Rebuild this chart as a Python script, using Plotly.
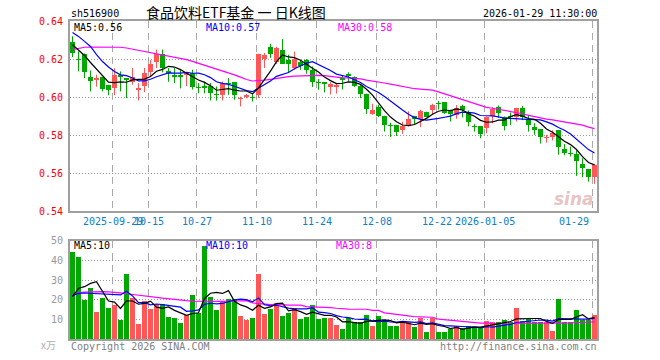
import plotly.graph_objects as go
import pandas as pd
import numpy as np

# ---------------- data ----------------
dates = [
    "2025-09-18", "2025-09-19", "2025-09-22", "2025-09-23", "2025-09-24", "2025-09-25", "2025-09-26",
    "2025-09-29", "2025-09-30",
    "2025-10-09", "2025-10-10", "2025-10-13", "2025-10-14", "2025-10-15", "2025-10-16", "2025-10-17",
    "2025-10-20", "2025-10-21", "2025-10-22", "2025-10-23", "2025-10-24", "2025-10-27", "2025-10-28",
    "2025-10-29", "2025-10-30", "2025-10-31",
    "2025-11-03", "2025-11-04", "2025-11-05", "2025-11-06", "2025-11-07", "2025-11-10", "2025-11-11",
    "2025-11-12", "2025-11-13", "2025-11-14", "2025-11-17", "2025-11-18", "2025-11-19", "2025-11-20",
    "2025-11-21", "2025-11-24", "2025-11-25", "2025-11-26", "2025-11-27", "2025-11-28",
    "2025-12-01", "2025-12-02", "2025-12-03", "2025-12-04", "2025-12-05", "2025-12-08", "2025-12-09",
    "2025-12-10", "2025-12-11", "2025-12-12", "2025-12-15", "2025-12-16", "2025-12-17", "2025-12-18",
    "2025-12-19", "2025-12-22", "2025-12-23", "2025-12-24", "2025-12-25", "2025-12-26", "2025-12-29",
    "2025-12-30", "2025-12-31",
    "2026-01-05", "2026-01-06", "2026-01-07", "2026-01-08", "2026-01-09", "2026-01-12", "2026-01-13",
    "2026-01-14", "2026-01-15", "2026-01-16", "2026-01-19", "2026-01-20", "2026-01-21", "2026-01-22",
    "2026-01-23", "2026-01-26", "2026-01-27", "2026-01-28", "2026-01-29",
]

opens = [
    0.6290, 0.6198, 0.6228, 0.6108, 0.6090, 0.6107, 0.6065, 0.6047, 0.6118, 0.6098,
    0.6077, 0.6037, 0.6056, 0.6130, 0.6184, 0.6228, 0.6139, 0.6118, 0.6118, 0.6118,
    0.6126, 0.6053, 0.6056, 0.6056, 0.6018, 0.6009, 0.6076, 0.6077, 0.5988, 0.5999,
    0.6001, 0.6009, 0.6200, 0.6261, 0.6184, 0.6249, 0.6196, 0.6153, 0.6186, 0.6196,
    0.6140, 0.6077, 0.6077, 0.6053, 0.6053, 0.6100, 0.6121, 0.6105, 0.6056, 0.6018,
    0.5912, 0.5947, 0.5902, 0.5851, 0.5854, 0.5825, 0.5849, 0.5902, 0.5884, 0.5923,
    0.5930, 0.5967, 0.5974, 0.5933, 0.5905, 0.5954, 0.5919, 0.5848, 0.5846, 0.5837,
    0.5902, 0.5947, 0.5895, 0.5902, 0.5898, 0.5942, 0.5884, 0.5842, 0.5832, 0.5784,
    0.5793, 0.5825, 0.5726, 0.5707, 0.5700, 0.5649, 0.5623, 0.5582,
]
highs = [
    0.6320, 0.6240, 0.6230, 0.6140, 0.6118, 0.6107, 0.6065, 0.6152, 0.6135, 0.6098,
    0.6153, 0.6074, 0.6153, 0.6196, 0.6250, 0.6250, 0.6153, 0.6153, 0.6148, 0.6132,
    0.6144, 0.6074, 0.6082, 0.6074, 0.6056, 0.6082, 0.6100, 0.6077, 0.6002, 0.6016,
    0.6016, 0.6228, 0.6232, 0.6280, 0.6265, 0.6305, 0.6223, 0.6239, 0.6196, 0.6200,
    0.6161, 0.6095, 0.6077, 0.6079, 0.6072, 0.6112, 0.6130, 0.6109, 0.6065, 0.6018,
    0.5965, 0.5960, 0.5902, 0.5865, 0.5854, 0.5870, 0.5925, 0.5902, 0.5933, 0.5923,
    0.5965, 0.5979, 0.5974, 0.5933, 0.5958, 0.5960, 0.5930, 0.5858, 0.5846, 0.5898,
    0.5947, 0.5956, 0.5898, 0.5919, 0.5944, 0.5954, 0.5907, 0.5863, 0.5832, 0.5802,
    0.5825, 0.5825, 0.5754, 0.5740, 0.5719, 0.5679, 0.5623, 0.5649,
]
lows = [
    0.6210, 0.6135, 0.6100, 0.6030, 0.6055, 0.6030, 0.6010, 0.6010, 0.6030, 0.5995,
    0.6065, 0.5982, 0.6026, 0.6110, 0.6153, 0.6130, 0.6081, 0.6074, 0.6046, 0.6058,
    0.6040, 0.6020, 0.6020, 0.5982, 0.5982, 0.5982, 0.6012, 0.5986, 0.5951, 0.5993,
    0.5977, 0.5995, 0.6153, 0.6205, 0.6175, 0.6175, 0.6130, 0.6144, 0.6144, 0.6123,
    0.6053, 0.6039, 0.6025, 0.6014, 0.6019, 0.6040, 0.6082, 0.6053, 0.5995, 0.5912,
    0.5907, 0.5895, 0.5819, 0.5790, 0.5796, 0.5807, 0.5846, 0.5856, 0.5842, 0.5895,
    0.5907, 0.5935, 0.5912, 0.5872, 0.5886, 0.5893, 0.5846, 0.5819, 0.5784, 0.5810,
    0.5863, 0.5891, 0.5825, 0.5854, 0.5872, 0.5879, 0.5819, 0.5802, 0.5756, 0.5761,
    0.5772, 0.5697, 0.5695, 0.5688, 0.5586, 0.5579, 0.5556, 0.5544,
]
closes = [
    0.6230, 0.6195, 0.6130, 0.6086, 0.6098, 0.6044, 0.6035, 0.6117, 0.6107, 0.6088,
    0.6105, 0.6047, 0.6126, 0.6174, 0.6228, 0.6153, 0.6128, 0.6107, 0.6107, 0.6130,
    0.6054, 0.6051, 0.6046, 0.6021, 0.6009, 0.6074, 0.6072, 0.6009, 0.5997, 0.6009,
    0.5998, 0.6228, 0.6219, 0.6228, 0.6258, 0.6175, 0.6175, 0.6200, 0.6161, 0.6144,
    0.6077, 0.6075, 0.6069, 0.6068, 0.6065, 0.6088, 0.6109, 0.6056, 0.6018, 0.5937,
    0.5933, 0.5902, 0.5854, 0.5849, 0.5816, 0.5846, 0.5886, 0.5884, 0.5928, 0.5898,
    0.5956, 0.5963, 0.5916, 0.5912, 0.5942, 0.5930, 0.5867, 0.5845, 0.5805, 0.5893,
    0.5937, 0.5916, 0.5846, 0.5898, 0.5942, 0.5898, 0.5854, 0.5825, 0.5793, 0.5793,
    0.5814, 0.5737, 0.5705, 0.5703, 0.5665, 0.5626, 0.5582, 0.5644,
]
volumes = [
    44.2, 41.9, 19.8, 26.1, 13.7, 21.0, 15.9, 17.3, 9.7, 33.1,
    20.7, 7.6, 19.5, 15.3, 17.8, 17.6, 11.4, 10.7, 8.1, 12.2,
    22.4, 13.2, 47.3, 21.2, 14.7, 19.5, 20.3, 20.3, 11.9, 9.7,
    10.8, 33.1, 12.7, 15.3, 18.1, 11.9, 13.4, 15.9, 10.2, 11.4,
    17.3, 10.2, 10.8, 10.6, 7.1, 5.1, 10.5, 8.5, 8.5, 12.2,
    6.6, 11.7, 9.7, 6.6, 6.6, 8.5, 8.5, 6.1, 10.5, 3.6,
    10.5, 3.6, 3.6, 5.3, 6.6, 5.4, 6.6, 6.1, 5.4, 9.3,
    8.5, 8.5, 9.7, 8.5, 15.9, 9.2, 10.0, 8.5, 8.5, 8.5,
    4.1, 20.3, 8.5, 8.5, 14.7, 9.7, 9.7, 12.2,
]

# moving-average values before the window is complete
ma5_head = [0.6275, 0.6249, 0.6219, 0.6182]
ma10_head = [0.6340, 0.6319, 0.6293, 0.6266, 0.6223, 0.6187, 0.6158, 0.6135, 0.6117]
ma30_head = [0.6250, 0.6258, 0.6262, 0.6263, 0.6263, 0.6263, 0.6263, 0.6263, 0.6262, 0.6258,
             0.6252, 0.6246, 0.6240, 0.6234, 0.6227, 0.6220, 0.6215, 0.6210, 0.6204, 0.6197,
             0.6188, 0.6178, 0.6168, 0.6158, 0.6150, 0.6140, 0.6128, 0.6117, 0.6105]
vma5_head = [21.5, 25.8, 26.6, 28.3]
vma10_head = [22.0, 23.2, 23.4, 23.2, 23.2, 23.0, 22.7, 22.6, 22.4]
vma30_head = [22.7, 23.5, 23.8, 24.0, 24.1, 24.1, 24.0, 23.8, 23.5, 23.0,
              22.7, 22.3, 21.8, 21.5, 21.2, 20.8, 20.4, 20.1, 19.8, 19.5,
              19.3, 19.2, 19.2, 19.1, 19.1, 19.1, 19.2, 19.4, 19.5]

tick_dates = ["2025-09-29", "2025-10-15", "2025-10-27", "2025-11-10", "2025-11-24",
              "2025-12-08", "2025-12-22", "2026-01-05", "2026-01-29"]
tick_labels = ["2025-09-29", "10-15", "10-27", "11-10", "11-24",
               "12-08", "12-22", "2026-01-05", "01-29"]
price_ticks = [0.54, 0.56, 0.58, 0.60, 0.62, 0.64]
volume_ticks = [10, 20, 30, 40, 50]

symbol = "sh516900"
title = "食品饮料ETF基金 一 日K线图"
stamp = "2026-01-29 11:30:00"

# ---------------- derived ----------------
def moving(vals, n, head):
    s = pd.Series(vals, dtype=float).rolling(n).mean().to_numpy()
    s[: n - 1] = head
    return s

ma5 = moving(closes, 5, ma5_head)
ma10 = moving(closes, 10, ma10_head)
ma30 = moving(closes, 30, ma30_head)
vma5 = moving(volumes, 5, vma5_head)
vma10 = moving(volumes, 10, vma10_head)
vma30 = moving(volumes, 30, vma30_head)

RED = "#ff5757"
GREEN = "#00a800"
n = len(dates)
idx = np.arange(n)
o = np.array(opens); c = np.array(closes); h = np.array(highs); lo = np.array(lows)
up = c >= o
colors = [RED if u else GREEN for u in up]

min_body = 0.00055
body_h = np.maximum(np.abs(c - o), min_body)
body_base = (o + c) / 2 - body_h / 2

# figure geometry (pixels)
W, H = 660, 360
ML, MR, MT, MB = 70, 63, 21, 21
PW, PH = W - ML - MR, H - MT - MB
def px(x):
    return (x - ML) / PW
def py(y):
    return (H - MB - y) / PH

x0 = -2.5 / 6
x1 = x0 + PW / 6.0
grid_x = [dates.index(d) - 0.33 for d in tick_dates]

mono = "DejaVu Sans Mono"

fig = go.Figure()

# wicks
for col, mask in ((RED, up), (GREEN, ~up)):
    xs, ys = [], []
    for i in idx[mask]:
        xs += [i, i, None]
        ys += [lo[i], h[i], None]
    fig.add_trace(go.Scatter(x=xs, y=ys, mode="lines", line=dict(color=col, width=1),
                             xaxis="x", yaxis="y", hoverinfo="skip", showlegend=False))
# bodies
fig.add_trace(go.Bar(x=idx, y=body_h, base=body_base, width=0.83, marker=dict(color=colors, line=dict(width=0)),
                     xaxis="x", yaxis="y", hoverinfo="skip", showlegend=False))
# price MAs
for arr, col in ((ma30, "#ff00ff"), (ma10, "#0000ff"), (ma5, "#000000")):
    fig.add_trace(go.Scatter(x=idx, y=arr, mode="lines", line=dict(color=col, width=1.2),
                             xaxis="x", yaxis="y", hoverinfo="skip", showlegend=False))
# volume
fig.add_trace(go.Bar(x=idx, y=volumes, width=0.83, marker=dict(color=colors, line=dict(width=0)),
                     xaxis="x2", yaxis="y2", hoverinfo="skip", showlegend=False))
for arr, col in ((vma30, "#ff00ff"), (vma10, "#0000ff"), (vma5, "#000000")):
    fig.add_trace(go.Scatter(x=idx, y=arr, mode="lines", line=dict(color=col, width=1.2),
                             xaxis="x2", yaxis="y2", hoverinfo="skip", showlegend=False))

FRAME = "#a0a0a0"
xcommon = dict(range=[x0, x1], tickvals=grid_x, showticklabels=False, ticks="",
               showgrid=True, gridcolor="#aaaaaa", gridwidth=1, griddash="7px,5px",
               showline=True, mirror=True, linecolor=FRAME, linewidth=2, zeroline=False, fixedrange=True)
price_dom = [py(211.3), 1.0]
vol_dom = [0.0, py(240.7)]

fig.update_layout(
    width=W, height=H, margin=dict(l=ML, r=MR, t=MT, b=MB),
    paper_bgcolor="white", plot_bgcolor="white", barmode="overlay", bargap=0,
    showlegend=False, hovermode=False,
    xaxis=dict(domain=[0, 1], anchor="y", **xcommon),
    xaxis2=dict(domain=[0, 1], anchor="y2", **xcommon),
    yaxis=dict(domain=price_dom, anchor="x", range=[0.54, 0.64], tickvals=price_ticks,
               ticktext=[f"{v:.2f}" for v in price_ticks],
               tickfont=dict(family=mono, size=10, color="#ff0000"), ticks="", ticklabelstandoff=3,
               showgrid=True, gridcolor="#999999", gridwidth=1, griddash="1px,2px",
               showline=True, mirror=True, linecolor=FRAME, linewidth=2, zeroline=False, fixedrange=True),
    yaxis2=dict(domain=vol_dom, anchor="x2", range=[0, 50], tickvals=volume_ticks,
                ticktext=[str(v) for v in volume_ticks],
                tickfont=dict(family=mono, size=10, color="#999999"), ticks="", ticklabelstandoff=3,
                showgrid=True, gridcolor="#999999", gridwidth=1, griddash="1px,2px",
                showline=True, mirror=True, linecolor=FRAME, linewidth=2, zeroline=False, fixedrange=True),
)

ann = []
def text(x, y, s, color="#000000", size=10, family=mono, anchor="left", xref="paper"):
    ann.append(dict(x=x, y=y, xref=xref, yref="paper", text=s, showarrow=False,
                    xanchor=anchor, yanchor="middle",
                    font=dict(family=family, size=size, color=color)))

text(px(69), py(13), symbol)
text(px(236), py(12), title, size=14, family="Noto Sans CJK SC", anchor="center")
text(px(599), py(13), stamp, anchor="right")

text(px(72), py(27), f"MA5:{ma5[-1]:.2f}")
text(px(204), py(27), f"MA10:{ma10[-1]:.2f}", color="#0000ff")
text(px(336), py(27), f"MA30:{ma30[-1]:.2f}", color="#ff00ff")

text(px(72), py(246), f"MA5:{int(vma5[-1])}")
text(px(204), py(246), f"MA10:{int(vma10[-1])}", color="#0000ff")
text(px(334), py(246), f"MA30:{int(vma30[-1])}", color="#ff00ff")

for k, (gx, lab) in enumerate(zip(grid_x, tick_labels)):
    last = k == len(grid_x) - 1
    ann.append(dict(x=gx if not last else gx - 0.2, y=py(221), xref="x", yref="paper", text=lab,
                    showarrow=False, xanchor="right" if last else "center", yanchor="middle",
                    font=dict(family=mono, size=10, color="#0b80c8")))

text(px(48), py(344), "x万", color="#b0b0b0", size=10, family="Noto Sans CJK SC", anchor="center")
text(px(69), py(346), "Copyright 2026 SINA.COM", color="#808080")
text(px(599), py(346), "http://finance.sina.com.cn", color="#808080", anchor="right")
text(px(596), py(199), "<b><i>sina</i></b>", color="#e8c4c4", size=17, family="DejaVu Sans", anchor="right")

fig.update_layout(annotations=ann)
fig.write_html("out.html", config={"displayModeBar": False, "staticPlot": True},
               post_script="document.body.style.margin='0';document.body.style.padding='0';")
